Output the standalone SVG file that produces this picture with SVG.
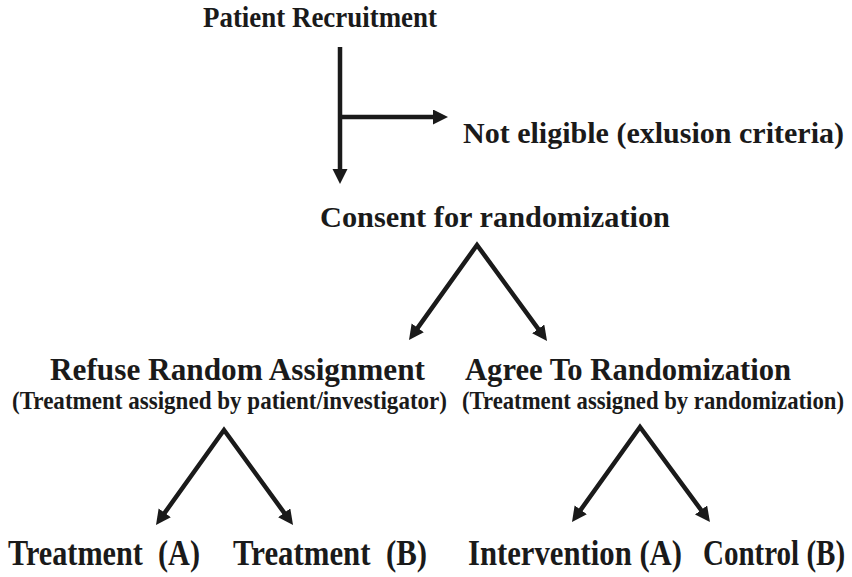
<svg xmlns="http://www.w3.org/2000/svg" width="852" height="577" viewBox="0 0 852 577">
<style>
text { font-family: "Liberation Serif", "Times New Roman", serif; font-weight: bold; fill: #1a1a1a; }
.top { font-size: 30px; }
.title { font-size: 32px; }
.sub { font-size: 25px; }
.leaf { font-size: 35px; }
.conn { fill: none; stroke: #1a1a1a; stroke-width: 4.5; stroke-linejoin: miter; marker-end: url(#arrow); }
.pair { marker-start: url(#arrow); }
</style>
<defs>
<marker id="arrow" markerUnits="userSpaceOnUse" markerWidth="18" markerHeight="16" refX="9" refY="7.5" orient="auto-start-reverse">
<path d="M0,0 L15,7.5 L0,15 z" fill="#1a1a1a"/>
</marker>
</defs>
<rect width="852" height="577" fill="#ffffff"/>
<g id="connectors">
<path class="conn" d="M340,47 L340,178"/>
<path class="conn" d="M340,117 L442,117"/>
<path class="conn pair" d="M412.5,335.1 L477,245 L543.5,336.2"/>
<path class="conn pair" d="M159.5,520.1 L224,430 L289.5,520.1"/>
<path class="conn pair" d="M575.5,517.1 L640,427 L706.4,517.2"/>
</g>
<g id="patient-recruitment"><text class="top" x="203" y="27" textLength="234" lengthAdjust="spacingAndGlyphs">Patient Recruitment</text></g>
<g id="not-eligible"><text class="top" x="463" y="143" textLength="381" lengthAdjust="spacingAndGlyphs">Not eligible (exlusion criteria)</text></g>
<g id="consent"><text class="top" x="320" y="227" textLength="350" lengthAdjust="spacingAndGlyphs">Consent for randomization</text></g>
<g id="refuse">
<text class="title" x="50" y="380" textLength="375" lengthAdjust="spacingAndGlyphs">Refuse Random Assignment</text>
<text class="sub" x="12" y="409" textLength="435" lengthAdjust="spacingAndGlyphs">(Treatment assigned by patient/investigator)</text>
</g>
<g id="agree">
<text class="title" x="465" y="380" textLength="326" lengthAdjust="spacingAndGlyphs">Agree To Randomization</text>
<text class="sub" transform="translate(462,409) scale(0.903,1)" x="0" y="0" textLength="423" lengthAdjust="spacingAndGlyphs">(Treatment assigned by randomization)</text>
</g>
<g id="treatment-a"><text class="leaf" x="8" y="565" textLength="192" lengthAdjust="spacingAndGlyphs" xml:space="preserve">Treatment  (A)</text></g>
<g id="treatment-b"><text class="leaf" x="233" y="565" textLength="194" lengthAdjust="spacingAndGlyphs" xml:space="preserve">Treatment  (B)</text></g>
<g id="intervention-a"><text class="leaf" x="468" y="565" textLength="214" lengthAdjust="spacingAndGlyphs">Intervention (A)</text></g>
<g id="control-b"><text class="leaf" transform="translate(703,565) scale(0.826,1)" x="0" y="0" textLength="172" lengthAdjust="spacingAndGlyphs">Control (B)</text></g>
</svg>
